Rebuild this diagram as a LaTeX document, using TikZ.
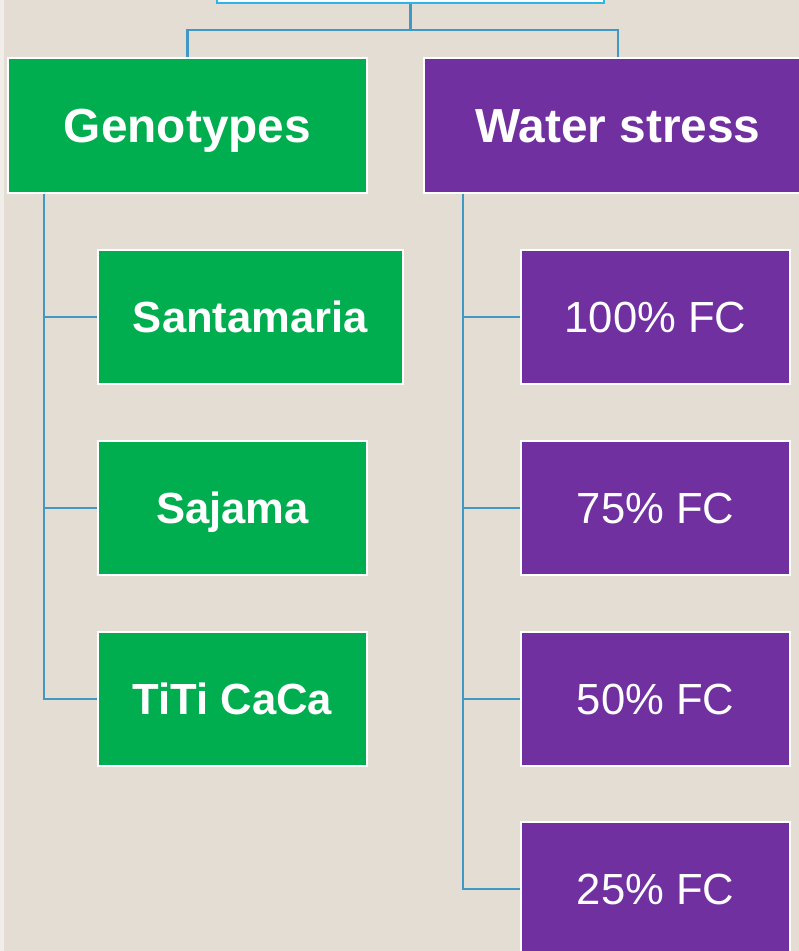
\documentclass[tikz,border=0pt]{standalone}
\usepackage{fontspec}
\setmainfont{Liberation Sans}
\definecolor{bgbeige}{HTML}{E3DDD3}
\definecolor{genogreen}{HTML}{00AE50}
\definecolor{stresspurple}{HTML}{7030A0}
\definecolor{linkblue}{HTML}{3F98C6}
\definecolor{topcyan}{HTML}{2CB5E8}

\begin{document}
\begin{tikzpicture}[x=0.025cm, y=-0.025cm,
      box/.style={rectangle, draw=white, line width=1.5pt, text=white, inner sep=0pt,
                  text height=22.2pt, text depth=0pt,
                  minimum height=134*0.025cm, align=center},
      head/.style={box, font=\bfseries\fontsize{34}{40}\selectfont, text height=24.3pt,
                   minimum height=135*0.025cm},
      geno/.style={box, fill=genogreen, font=\bfseries\fontsize{31}{37}\selectfont},
      level/.style={box, fill=stresspurple, font=\fontsize{31}{37}\selectfont},
      link/.style={draw=linkblue, line width=2pt}]
    \fill[bgbeige] (0,0) rectangle (799,951);
    \fill[white!50!bgbeige] (0,0) rectangle (4,951);
    \useasboundingbox (0,0) rectangle (799,951);
    \begin{scope}
    \clip (0,0) rectangle (799,951);
    % heads
    \node[rectangle, draw=topcyan, fill=white, line width=1.5pt, minimum width=387*0.025cm,
          minimum height=135*0.025cm] (top) at (410.5,-64.5) {};
    \node[head, fill=genogreen, minimum width=359*0.025cm] (gen) at (187.5,125.5) {Genotypes};
    \node[head, fill=stresspurple, minimum width=388*0.025cm] (ws) at (618,125.5) {Water stress};
    % genotypes
    \node[geno, minimum width=305*0.025cm] (g1) at (250.5,317) {Santamaria};
    \node[geno, minimum width=269*0.025cm] (g2) at (232.5,508) {Sajama};
    \node[geno, minimum width=269*0.025cm] (g3) at (232.5,699) {TiTi CaCa};
    % water levels
    \node[level, minimum width=269*0.025cm] (w1) at (655.5,317) {100\% FC};
    \node[level, minimum width=269*0.025cm] (w2) at (655.5,508) {75\% FC};
    \node[level, minimum width=269*0.025cm] (w3) at (655.5,699) {50\% FC};
    \node[level, minimum width=269*0.025cm] (w4) at (655.5,889) {25\% FC};
    % connectors
    \coordinate (split) at (410.5,30);
    \draw[link] (top.south) -- (split);
    \draw[link] (split) -| (gen.north);
    \draw[link] (split) -| (ws.north);
    \coordinate (gspine) at (44,194);
    \coordinate (wspine) at (463,194);
    \draw[link] (gspine) |- (g1.west);
    \draw[link] (gspine) |- (g2.west);
    \draw[link] (gspine) |- (g3.west);
    \draw[link] (wspine) |- (w1.west);
    \draw[link] (wspine) |- (w2.west);
    \draw[link] (wspine) |- (w3.west);
    \draw[link] (wspine) |- (w4.west);
    \end{scope}
\end{tikzpicture}
\end{document}
